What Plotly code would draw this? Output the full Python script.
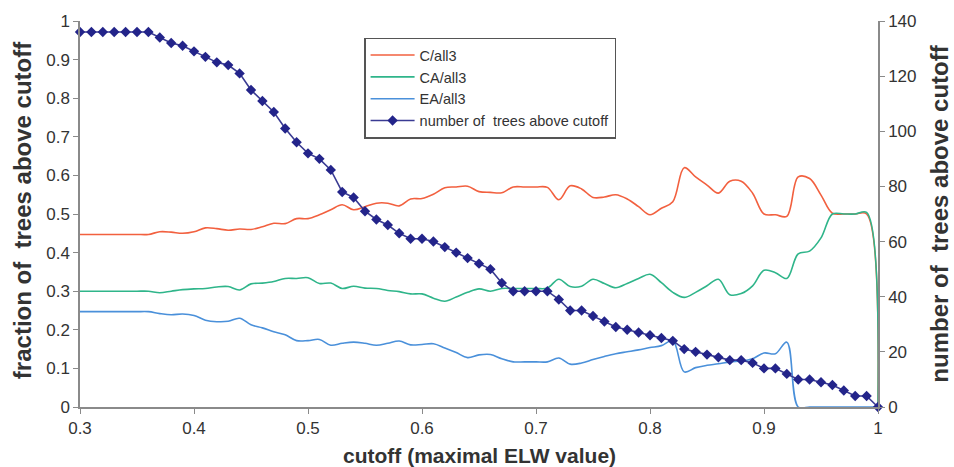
import plotly.graph_objects as go

cutoff = [0.30, 0.31, 0.32, 0.33, 0.34, 0.35, 0.36, 0.37, 0.38, 0.39,
          0.40, 0.41, 0.42, 0.43, 0.44, 0.45, 0.46, 0.47, 0.48, 0.49,
          0.50, 0.51, 0.52, 0.53, 0.54, 0.55, 0.56, 0.57, 0.58, 0.59,
          0.60, 0.61, 0.62, 0.63, 0.64, 0.65, 0.66, 0.67, 0.68, 0.69,
          0.70, 0.71, 0.72, 0.73, 0.74, 0.75, 0.76, 0.77, 0.78, 0.79,
          0.80, 0.81, 0.82, 0.83, 0.84, 0.85, 0.86, 0.87, 0.88, 0.89,
          0.90, 0.91, 0.92, 0.93, 0.94, 0.95, 0.96, 0.97, 0.98, 0.99,
          1.00]

c_all3 = [0.447, 0.447, 0.447, 0.447, 0.447, 0.447, 0.447, 0.454, 0.453, 0.450,
          0.454, 0.464, 0.462, 0.458, 0.461, 0.460, 0.467, 0.476, 0.475, 0.488,
          0.488, 0.498, 0.511, 0.524, 0.511, 0.519, 0.528, 0.528, 0.521, 0.539,
          0.540, 0.551, 0.568, 0.570, 0.572, 0.558, 0.556, 0.555, 0.570, 0.570,
          0.570, 0.569, 0.537, 0.573, 0.565, 0.543, 0.544, 0.550, 0.539, 0.519,
          0.498, 0.515, 0.532, 0.620, 0.596, 0.575, 0.554, 0.585, 0.585, 0.554,
          0.500, 0.498, 0.494, 0.596, 0.592, 0.549, 0.502, 0.500, 0.500, 0.500,
          0.0]

ca_all3 = [0.300, 0.300, 0.300, 0.300, 0.300, 0.300, 0.300, 0.296, 0.300, 0.304,
           0.306, 0.307, 0.311, 0.312, 0.303, 0.319, 0.321, 0.325, 0.333, 0.333,
           0.335, 0.320, 0.321, 0.307, 0.313, 0.308, 0.307, 0.302, 0.299, 0.293,
           0.293, 0.282, 0.274, 0.285, 0.297, 0.306, 0.300, 0.307, 0.307, 0.307,
           0.307, 0.308, 0.331, 0.312, 0.313, 0.331, 0.320, 0.309, 0.320, 0.333,
           0.344, 0.322, 0.297, 0.284, 0.297, 0.314, 0.331, 0.291, 0.294, 0.314,
           0.354, 0.348, 0.333, 0.397, 0.404, 0.438, 0.500, 0.500, 0.500, 0.504,
           0.0]

ea_all3 = [0.247, 0.247, 0.247, 0.247, 0.247, 0.247, 0.247, 0.242, 0.239, 0.241,
           0.237, 0.225, 0.221, 0.222, 0.230, 0.213, 0.205, 0.195, 0.187, 0.172,
           0.172, 0.175, 0.160, 0.165, 0.168, 0.165, 0.160, 0.165, 0.171, 0.161,
           0.162, 0.164, 0.153, 0.141, 0.128, 0.135, 0.136, 0.125, 0.117, 0.117,
           0.117, 0.117, 0.127, 0.111, 0.114, 0.123, 0.131, 0.138, 0.143, 0.148,
           0.154, 0.159, 0.172, 0.091, 0.102, 0.108, 0.112, 0.117, 0.119, 0.125,
           0.140, 0.138, 0.168, 0.0, 0.0, 0.0, 0.0, 0.0, 0.0, 0.0,
           0.0]

n_trees = [136, 136, 136, 136, 136, 136, 136, 134, 132, 131,
           129, 127, 125, 124, 121, 115, 111, 107, 101, 96,
           92, 90, 86, 78, 76, 71, 68, 66, 63, 61,
           61, 60, 58, 56, 54, 52, 50, 45, 42, 42,
           42, 42, 39, 35, 35, 33, 31, 29, 28, 27,
           26, 25, 24, 21, 20, 19, 18, 17, 17, 16,
           14, 14, 12, 10, 10, 9, 8, 6, 4, 4,
           0]

x_ticks = [0.3, 0.4, 0.5, 0.6, 0.7, 0.8, 0.9, 1]
y_ticks = [0, 0.1, 0.2, 0.3, 0.4, 0.5, 0.6, 0.7, 0.8, 0.9, 1]
y2_ticks = [0, 20, 40, 60, 80, 100, 120, 140]

FONT = "Liberation Sans, Arial, sans-serif"
AXIS = "#8a8a8a"

fig = go.Figure()
fig.add_trace(go.Scatter(x=cutoff, y=c_all3, name="C/all3", mode="lines",
                         line=dict(color="#F2603F", width=1.6, shape="spline"),
                         cliponaxis=False))
fig.add_trace(go.Scatter(x=cutoff, y=ca_all3, name="CA/all3", mode="lines",
                         line=dict(color="#2FB58A", width=1.6, shape="spline"),
                         cliponaxis=False))
fig.add_trace(go.Scatter(x=cutoff, y=ea_all3, name="EA/all3", mode="lines",
                         line=dict(color="#4A90DA", width=1.6, shape="spline"),
                         cliponaxis=False))
fig.add_trace(go.Scatter(x=cutoff, y=n_trees, name="number of\u00a0 trees above cutoff",
                         mode="lines+markers", yaxis="y2",
                         line=dict(color="#3A3B93", width=1.6),
                         marker=dict(symbol="diamond", size=8, color="#23248A"),
                         cliponaxis=False))

axis_common = dict(showgrid=False, zeroline=False, showline=True, linecolor=AXIS,
                   linewidth=1.5, ticks="outside", ticklen=5, tickcolor=AXIS,
                   tickwidth=1.2, tickfont=dict(family=FONT, size=17, color="#333"))

fig.update_layout(
    width=954, height=467,
    margin=dict(l=80, r=76, t=18, b=60),
    paper_bgcolor="white", plot_bgcolor="white",
    showlegend=True,
    xaxis=dict(range=[0.3, 1], tickvals=x_ticks, **axis_common),
    yaxis=dict(range=[0, 1], tickvals=y_ticks, **axis_common),
    yaxis2=dict(range=[0, 140], tickvals=y2_ticks, overlaying="y", side="right",
                **axis_common),
    legend=dict(x=0.356, y=0.957, xanchor="left", yanchor="top",
                bgcolor="white", bordercolor="#555", borderwidth=1.5,
                font=dict(family=FONT, size=14.5, color="#333"),
                itemwidth=44, tracegroupgap=0),
    annotations=[
        dict(text="<b>cutoff (maximal ELW value)</b>", xref="paper", yref="paper",
             x=0.501, y=-0.126, xanchor="center", yanchor="middle", showarrow=False,
             font=dict(family=FONT, size=21, color="#333")),
        dict(text="<b>fraction of\u00a0 trees above cutoff</b>", xref="paper", yref="paper",
             x=-0.0727, y=0.51, xanchor="center", yanchor="middle", showarrow=False,
             textangle=-90, font=dict(family=FONT, size=24, color="#333")),
        dict(text="<b>number of\u00a0 trees above cutoff</b>", xref="paper", yref="paper",
             x=1.076, y=0.50, xanchor="center", yanchor="middle", showarrow=False,
             textangle=-90, font=dict(family=FONT, size=24, color="#333")),
    ],
)

fig.write_html("out.html", config={"displayModeBar": False},
               post_script="document.body.style.margin='0';document.body.style.overflow='hidden';")
